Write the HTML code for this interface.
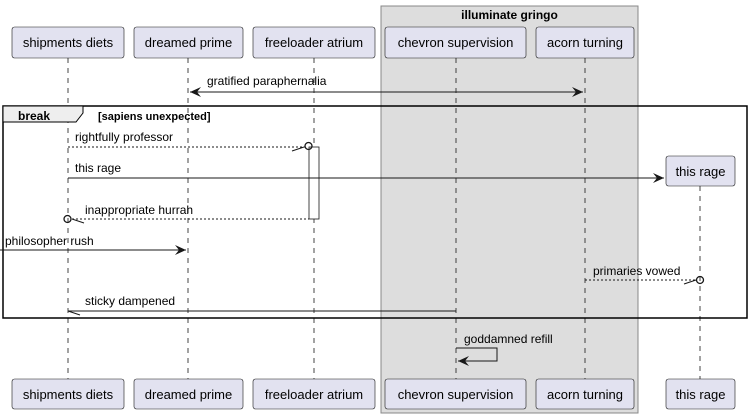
<!DOCTYPE html>
<html><head><meta charset="utf-8"><style>
html,body{margin:0;padding:0;background:#fff;}
svg{display:block;font-family:"Liberation Sans",Arial,sans-serif;}
</style></head><body>
<svg width="750" height="419" viewBox="0 0 750 419" xmlns="http://www.w3.org/2000/svg">
<defs>
<marker id="a" viewBox="0 0 12 10" refX="11" refY="5" markerWidth="12" markerHeight="10" orient="auto-start-reverse" markerUnits="userSpaceOnUse">
<path d="M0,0 L11,5 L0,10 L4,5 Z" fill="#181818"/></marker>
</defs>
<rect x="381" y="6" width="257" height="407" fill="#DDDDDD" stroke="#888" stroke-width="1"/>
<text x="509.5" y="19" font-size="12" font-weight="bold" text-anchor="middle" fill="#000">illuminate gringo</text>
<g stroke="#181818" stroke-width="0.8" stroke-dasharray="5,5" fill="none">
<line x1="68" y1="58" x2="68" y2="379"/>
<line x1="188" y1="58" x2="188" y2="379"/>
<line x1="314" y1="58" x2="314" y2="379"/>
<line x1="456" y1="58" x2="456" y2="379"/>
<line x1="585" y1="58" x2="585" y2="379"/>
<line x1="700" y1="186" x2="700" y2="379"/>
</g>
<g fill="#E2E2F0" stroke="#181818" stroke-width="0.6">
<rect x="12" y="27" width="112" height="31" rx="2.5"/>
<rect x="134" y="27" width="109" height="31" rx="2.5"/>
<rect x="253" y="27" width="122" height="31" rx="2.5"/>
<rect x="385" y="27" width="141" height="31" rx="2.5"/>
<rect x="536" y="27" width="98" height="31" rx="2.5"/>
<rect x="666" y="156" width="69" height="30" rx="2.5"/>
<rect x="12" y="379" width="112" height="30" rx="2.5"/>
<rect x="134" y="379" width="109" height="30" rx="2.5"/>
<rect x="253" y="379" width="122" height="30" rx="2.5"/>
<rect x="385" y="379" width="141" height="30" rx="2.5"/>
<rect x="536" y="379" width="98" height="30" rx="2.5"/>
<rect x="666" y="379" width="69" height="30" rx="2.5"/>
</g>
<g font-size="13" fill="#000" text-anchor="middle">
<text x="68" y="47">shipments diets</text>
<text x="188.5" y="47">dreamed prime</text>
<text x="314" y="47">freeloader atrium</text>
<text x="455.5" y="47">chevron supervision</text>
<text x="585" y="47">acorn turning</text>
<text x="700.5" y="176">this rage</text>
<text x="68" y="399">shipments diets</text>
<text x="188.5" y="399">dreamed prime</text>
<text x="314" y="399">freeloader atrium</text>
<text x="455.5" y="399">chevron supervision</text>
<text x="585" y="399">acorn turning</text>
<text x="700.5" y="399">this rage</text>
</g>
<!-- break frame -->
<rect x="3" y="106" width="744" height="212" fill="none" stroke="#000" stroke-width="1.5"/>
<path d="M3,106 L83,106 L83,113 L76,122 L3,122 Z" fill="#EEEEEE" stroke="#000" stroke-width="1"/>
<text x="18" y="120" font-size="12" font-weight="bold">break</text>
<text x="98" y="120" font-size="11" font-weight="bold">[sapiens unexpected]</text>
<!-- activation -->
<rect x="309" y="147" width="10" height="72" fill="#fff" stroke="#181818" stroke-width="0.8"/>
<g stroke="#181818" stroke-width="1" fill="none" font-size="12">
<line x1="190" y1="92" x2="583" y2="92" marker-start="url(#a)" marker-end="url(#a)"/>
<line x1="68" y1="147" x2="305" y2="147" stroke-dasharray="2,2"/>
<line x1="292" y1="151" x2="304" y2="147"/>
<circle cx="308.5" cy="146" r="3.5" stroke-width="1.3"/>
<line x1="68" y1="178" x2="664" y2="178" marker-end="url(#a)"/>
<line x1="72" y1="219" x2="309" y2="219" stroke-dasharray="2,2"/>
<line x1="72" y1="219" x2="84" y2="223"/>
<circle cx="67.5" cy="219" r="3.5" stroke-width="1.3"/>
<line x1="0" y1="250" x2="186" y2="250" marker-end="url(#a)"/>
<line x1="585" y1="280" x2="696" y2="280" stroke-dasharray="2,2"/>
<line x1="684" y1="284" x2="696" y2="280"/>
<circle cx="700" cy="280" r="3.5" stroke-width="1.3"/>
<line x1="68" y1="311" x2="456" y2="311"/>
<line x1="68" y1="311" x2="80" y2="315"/>
<polyline points="456,348 497,348 497,361 458,361"/>
<path d="M458,361 L469,356 L465,361 L469,366 Z" fill="#181818" stroke="none"/>
</g>
<g font-size="12" fill="#000">
<text x="207" y="85">gratified paraphernalia</text>
<text x="75" y="141">rightfully professor</text>
<text x="75" y="172">this rage</text>
<text x="85" y="214">inappropriate hurrah</text>
<text x="5" y="245">philosopher rush</text>
<text x="593" y="275">primaries vowed</text>
<text x="85" y="305">sticky dampened</text>
<text x="464" y="343">goddamned refill</text>
</g>
</svg>
</body></html>
